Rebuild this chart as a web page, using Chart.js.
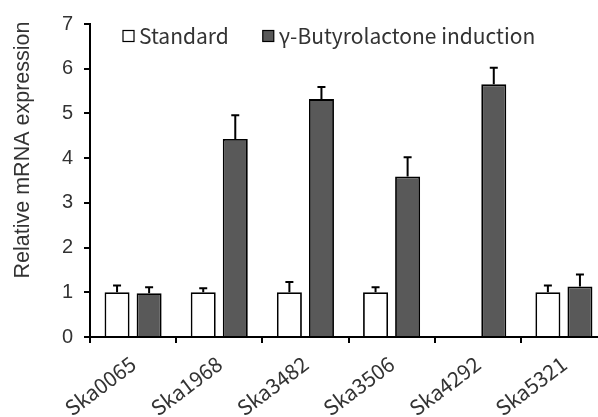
<!DOCTYPE html>
<html>
<head>
<meta charset="utf-8">
<script src="https://cdn.jsdelivr.net/npm/chart.js@4"></script>
<style>
  html, body { margin: 0; padding: 0; overflow: hidden; background: #fff; }
  #wrap { width: 610px; height: 440px; position: relative; }
</style>
</head>
<body>
<div id="wrap"><canvas id="expressionChart"></canvas></div>
<script>
const categories = ["Ska0065", "Ska1968", "Ska3482", "Ska3506", "Ska4292", "Ska5321"];
const standardValues = [1.0, 1.0, 1.0, 1.0, null, 1.0];
const standardErrors = [0.15, 0.09, 0.23, 0.11, null, 0.15];
const inducedValues = [0.98, 4.43, 5.32, 3.59, 5.65, 1.13];
const inducedErrors = [0.13, 0.53, 0.27, 0.43, 0.37, 0.27];
const yTicks = [0, 1, 2, 3, 4, 5, 6, 7];

const yTitle = "Relative mRNA expression";

// upward error bars with caps
const errorBars = {
  id: "errorBars",
  afterDatasetsDraw(chart) {
    const { ctx, scales: { y } } = chart;
    ctx.save();
    ctx.strokeStyle = "#000";
    ctx.lineWidth = 2;
    chart.data.datasets.forEach((ds, i) => {
      const meta = chart.getDatasetMeta(i);
      meta.data.forEach((bar, j) => {
        const v = ds.data[j];
        const e = ds.errors[j];
        if (v == null || e == null) return;
        const top = y.getPixelForValue(v + e);
        ctx.beginPath();
        ctx.moveTo(bar.x, bar.y);
        ctx.lineTo(bar.x, top);
        ctx.moveTo(bar.x - 4, top);
        ctx.lineTo(bar.x + 4, top);
        ctx.stroke();
      });
    });
    ctx.restore();
  },
};

// legend inside the plot + rotated y title
const extras = {
  id: "extras",
  afterDraw(chart) {
    const { ctx, chartArea } = chart;
    ctx.save();
    ctx.font = "21px 'Noto Sans CJK SC'";
    ctx.textBaseline = "middle";
    let x = chartArea.left + 33;
    const ly = 36;
    chart.data.datasets.forEach((ds) => {
      ctx.fillStyle = ds.backgroundColor;
      ctx.fillRect(x, ly - 5.5, 11, 11);
      ctx.strokeStyle = "#000";
      ctx.lineWidth = 1.2;
      ctx.strokeRect(x, ly - 5.5, 11, 11);
      ctx.fillStyle = "#333";
      ctx.fillText(ds.label, x + 16, ly);
      x += 16 + ctx.measureText(ds.label).width + 34;
    });

    ctx.translate(23, 150);
    ctx.rotate(-Math.PI / 2);
    ctx.textAlign = "center";
    ctx.font = "21.5px 'Liberation Sans'";
    ctx.fillText(yTitle, 0, 0);
    ctx.restore();
  },
};

const ctx = document.getElementById("expressionChart").getContext("2d");
const chart = new Chart(ctx, {
  type: "bar",
  data: {
    labels: categories,
    datasets: [
      {
        label: "Standard",
        data: standardValues,
        errors: standardErrors,
        backgroundColor: "#ffffff",
        borderColor: "#000",
        borderWidth: 1.8,
        categoryPercentage: 0.744,
        barPercentage: 0.78,
      },
      {
        label: "γ-Butyrolactone induction",
        data: inducedValues,
        errors: inducedErrors,
        backgroundColor: "#595959",
        borderColor: "#000",
        borderWidth: 1.8,
        categoryPercentage: 0.744,
        barPercentage: 0.78,
      },
    ],
  },
  options: {
    responsive: true,
    maintainAspectRatio: false,
    animation: false,
    layout: { padding: { top: 24, right: 3, left: 0, bottom: 0 } },
    plugins: {
      legend: { display: false },
      tooltip: { enabled: false },
    },
    scales: {
      x: {
        border: { color: "#000", width: 2 },
        grid: { drawOnChartArea: false, color: "#000", lineWidth: 2, tickLength: 6 },
        ticks: {
          color: "#333",
          font: { family: "'Noto Sans CJK SC'", size: 21 },
          minRotation: 37,
          maxRotation: 37,
          padding: 8,
        },
        afterFit(axis) { axis.height = 103; },
      },
      y: {
        min: 0,
        max: 7,
        border: { color: "#000", width: 2 },
        grid: { drawOnChartArea: false, color: "#000", lineWidth: 2, tickLength: 6 },
        afterBuildTicks(axis) { axis.ticks = yTicks.map((v) => ({ value: v })); },
        ticks: {
          color: "#333",
          font: { family: "'Liberation Sans'", size: 20 },
          padding: 11,
        },
        afterFit(axis) { axis.width = 90; },
      },
    },
  },
  plugins: [errorBars, extras],
});
</script>
</body>
</html>
